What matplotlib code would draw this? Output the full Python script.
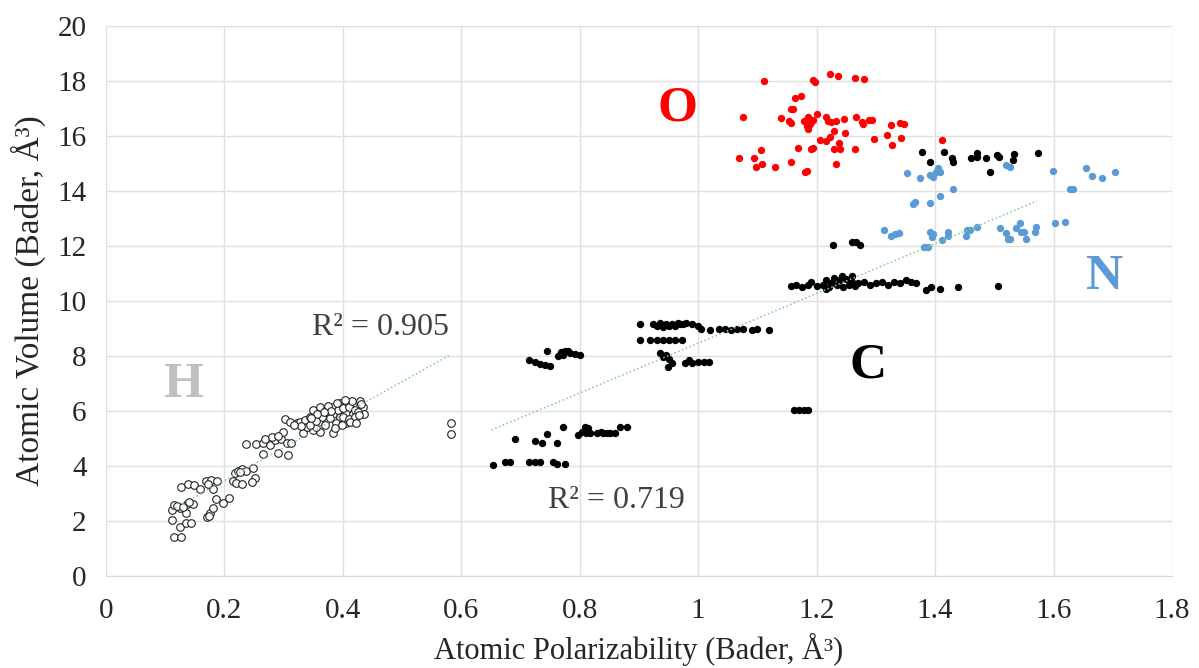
import matplotlib
matplotlib.use("Agg")
import matplotlib.pyplot as plt

plt.rcParams["font.family"] = ["Liberation Serif", "DejaVu Serif"]

# H atoms (hollow markers)
h_x = [0.114, 0.127, 0.111, 0.125, 0.135, 0.143, 0.111, 0.114, 0.125, 0.135, 0.137, 0.147,
       0.120, 0.130, 0.140, 0.127, 0.139, 0.149, 0.159, 0.169, 0.178, 0.187, 0.181, 0.172,
       0.170, 0.176, 0.181, 0.174, 0.186, 0.197, 0.208,
       0.215, 0.220, 0.229, 0.218, 0.223, 0.230, 0.237, 0.249, 0.252, 0.246, 0.226,
       0.237, 0.254, 0.265, 0.277, 0.268, 0.285, 0.296, 0.299, 0.305, 0.313, 0.265, 0.291,
       0.308, 0.280, 0.290,
       0.302, 0.310, 0.322, 0.327, 0.336, 0.344, 0.350, 0.361, 0.372, 0.384, 0.395, 0.406,
       0.417, 0.429, 0.434, 0.436, 0.417, 0.406, 0.395, 0.384, 0.361, 0.350, 0.333, 0.339,
       0.355, 0.372, 0.384, 0.395, 0.406, 0.417, 0.360, 0.365, 0.370, 0.378, 0.388, 0.392,
       0.400, 0.410, 0.420, 0.425, 0.430, 0.345, 0.355, 0.375, 0.390, 0.400, 0.410, 0.420,
       0.428, 0.415, 0.403, 0.380, 0.368, 0.357, 0.347, 0.330, 0.318, 0.386, 0.398, 0.412,
       0.422,
       0.582, 0.582]
h_y = [1.43, 1.43, 2.04, 1.79, 1.94, 1.94, 2.40, 2.58, 2.46, 2.28, 2.62, 2.62,
       2.55, 2.50, 2.70, 3.23, 3.35, 3.30, 3.18, 3.45, 3.49, 3.45, 3.18, 3.35,
       2.16, 2.28, 2.46, 2.20, 2.79, 2.65, 2.82,
       3.45, 3.40, 3.36, 3.76, 3.83, 3.90, 3.83, 3.91, 3.55, 3.42, 3.80,
       4.80, 4.80, 4.85, 4.78, 5.00, 4.95, 5.00, 5.25, 4.85, 4.85, 4.45, 4.47,
       4.40, 5.05, 5.10,
       5.70, 5.61, 5.55, 5.61, 5.67, 5.79, 6.04, 6.16, 6.04, 6.16, 6.28, 6.33,
       6.28, 6.38, 6.16, 5.91, 5.67, 5.55, 5.67, 5.19, 5.25, 5.31, 5.19, 5.43,
       5.43, 5.67, 5.91, 5.79, 5.91, 5.91, 5.60, 5.80, 5.50, 5.75, 5.55, 6.05,
       6.10, 6.15, 6.05, 5.95, 6.25, 5.50, 5.65, 6.20, 6.30, 5.80, 5.70, 5.80,
       5.85, 6.35, 6.40, 6.00, 5.95, 5.90, 5.75, 5.45, 5.50, 5.40, 5.50, 5.60,
       5.55,
       5.55, 5.15]

# C atoms
c_x = [0.653, 0.673, 0.683, 0.715, 0.724, 0.732, 0.755, 0.761, 0.775, 0.690, 0.724, 0.737,
       0.745, 0.761, 0.771, 0.797, 0.803, 0.808, 0.814, 0.817, 0.810, 0.829, 0.840, 0.851,
       0.859, 0.868, 0.879, 0.835, 0.846,
       0.715, 0.724, 0.732, 0.741, 0.749, 0.745, 0.764, 0.769, 0.775, 0.783, 0.792, 0.800,
       0.772, 0.780,
       0.902, 0.902, 0.924, 0.930, 0.935, 0.940, 0.945, 0.950, 0.955, 0.960, 0.965, 0.970,
       0.975, 0.980, 0.990, 1.000, 1.005, 1.020, 1.035, 1.045, 1.055, 1.065, 1.075, 1.090,
       1.100, 1.120, 0.918, 0.930, 0.940, 0.950, 0.960, 0.972,
       0.935, 0.940, 0.945, 0.950, 0.955, 0.949, 0.977, 0.990, 1.000, 1.010, 1.019, 0.985,
       1.162, 1.170, 1.178, 1.186,
       1.157, 1.165, 1.175, 1.185, 1.190, 1.200, 1.210, 1.215, 1.220, 1.225, 1.230, 1.235,
       1.240, 1.245, 1.250, 1.255, 1.260, 1.265, 1.270, 1.280, 1.290, 1.300, 1.310, 1.320,
       1.330, 1.340, 1.350, 1.360, 1.368, 1.228, 1.259, 1.267, 1.273, 1.385, 1.393, 1.408,
       1.439, 1.507, 1.242, 1.260, 1.215,
       1.378, 1.391, 1.415, 1.429, 1.431, 1.461, 1.470, 1.470, 1.486, 1.493, 1.504, 1.508,
       1.531, 1.534, 1.573]
c_y = [4.04, 4.14, 4.14, 4.14, 4.14, 4.14, 4.14, 4.08, 4.08, 5.00, 4.92, 4.82,
       5.17, 4.82, 5.43, 5.13, 5.25, 5.43, 5.37, 5.19, 5.20, 5.19, 5.19, 5.19,
       5.19, 5.41, 5.41, 5.22, 5.20,
       7.85, 7.79, 7.71, 7.67, 7.65, 8.19, 8.00, 8.15, 8.19, 8.10, 8.07, 8.04,
       8.05, 8.20,
       9.16, 8.60, 9.16, 9.10, 9.20, 9.05, 9.16, 9.10, 9.18, 9.10, 9.20, 9.15,
       9.16, 9.20, 9.16, 9.10, 9.00, 8.95, 9.00, 9.00, 8.95, 9.00, 9.00, 8.95,
       9.00, 8.95, 8.60, 8.60, 8.60, 8.60, 8.60, 8.60,
       8.10, 7.95, 8.05, 7.90, 7.75, 7.61, 7.73, 7.75, 7.80, 7.80, 7.79, 7.85,
       6.04, 6.04, 6.04, 6.04,
       10.55, 10.60, 10.50, 10.60, 10.70, 10.55, 10.60, 10.75, 10.50, 10.65, 10.85, 10.60,
       10.75, 10.50, 10.80, 10.60, 10.70, 10.55, 10.65, 10.70, 10.60, 10.65, 10.70, 10.60,
       10.70, 10.65, 10.75, 10.70, 10.65, 12.04, 12.16, 12.16, 12.04, 10.40, 10.50, 10.42,
       10.50, 10.56, 10.90, 10.90, 10.45,
       15.41, 15.06, 15.41, 15.19, 15.06, 15.19, 15.39, 15.25, 15.19, 14.70, 15.31, 15.22,
       15.13, 15.35, 15.39]

# N atoms
n_x = [1.353, 1.374, 1.391, 1.396, 1.402, 1.405, 1.408, 1.431, 1.363, 1.366, 1.391, 1.409,
       1.520, 1.526, 1.599, 1.654, 1.665, 1.682, 1.703, 1.627, 1.633, 1.314, 1.326, 1.332,
       1.339, 1.391, 1.396, 1.394, 1.422, 1.422, 1.452, 1.454, 1.459, 1.471, 1.412, 1.382,
       1.388, 1.510, 1.520, 1.523, 1.526, 1.537, 1.543, 1.545, 1.553, 1.550, 1.568, 1.570,
       1.603, 1.620]
n_y = [14.67, 14.46, 14.58, 14.52, 14.70, 14.82, 14.70, 14.07, 13.53, 13.61, 13.55, 13.82,
       14.94, 14.88, 14.74, 14.82, 14.54, 14.48, 14.68, 14.07, 14.09, 12.58, 12.36, 12.44,
       12.49, 12.52, 12.43, 12.34, 12.52, 12.36, 12.36, 12.58, 12.58, 12.70, 12.22, 11.95,
       11.98, 12.64, 12.46, 12.27, 12.27, 12.67, 12.82, 12.52, 12.27, 12.52, 12.52, 12.70,
       12.82, 12.86]

# O atoms
o_x = [1.111, 1.193, 1.197, 1.223, 1.236, 1.265, 1.280, 1.163, 1.173, 1.156, 1.160, 1.076,
       1.139, 1.153, 1.156, 1.178, 1.185, 1.188, 1.194, 1.200, 1.183, 1.185, 1.190,
       1.215, 1.219, 1.225, 1.233, 1.246, 1.229, 1.267, 1.276, 1.279, 1.288, 1.293,
       1.326, 1.340, 1.347, 1.248, 1.222, 1.216, 1.206, 1.238, 1.229, 1.240, 1.265,
       1.297, 1.319, 1.342, 1.328, 1.168, 1.191, 1.194, 1.106, 1.068, 1.094, 1.108, 1.098,
       1.129, 1.157, 1.181, 1.184, 1.233, 1.412]
o_y = [18.01, 18.04, 17.95, 18.24, 18.19, 18.12, 18.07, 17.40, 17.45, 17.00, 17.00, 16.68,
       16.64, 16.55, 16.48, 16.55, 16.68, 16.45, 16.60, 16.80, 16.35, 16.25, 16.50,
       16.68, 16.55, 16.52, 16.55, 16.62, 16.20, 16.68, 16.52, 16.44, 16.58, 16.60,
       16.40, 16.46, 16.42, 16.12, 15.98, 15.83, 15.85, 15.76, 15.53, 15.53, 15.53,
       15.91, 16.04, 15.94, 15.67, 15.58, 15.53, 15.58, 15.49, 15.19, 15.19, 15.00, 14.86,
       14.89, 15.07, 14.70, 14.72, 14.97, 15.85]

# linear trendlines (end points)
h_trend_x = [0.111, 0.581]
h_trend_y = [2.40, 8.04]
c_trend_x = [0.651, 1.572]
c_trend_y = [5.31, 13.64]

x_ticks = [0, 0.2, 0.4, 0.6, 0.8, 1, 1.2, 1.4, 1.6, 1.8]
x_tick_labels = ["0", "0.2", "0.4", "0.6", "0.8", "1", "1.2", "1.4", "1.6", "1.8"]
y_ticks = list(range(0, 21, 2))

fig = plt.figure(figsize=(11.99, 6.68), dpi=100)
ax = fig.add_axes([0.0884, 0.1377, 0.8891, 0.8233])

ax.scatter(h_x, h_y, s=30, facecolors="white", edgecolors="#222222", linewidths=0.8, zorder=3)
ax.scatter(c_x, c_y, s=28, color="black", linewidths=0, zorder=3)
ax.scatter(n_x, n_y, s=28, color="#5b9bd5", linewidths=0, zorder=3)
ax.scatter(o_x, o_y, s=28, color="#ff0000", linewidths=0, zorder=3)

ax.plot(h_trend_x, h_trend_y, linestyle=":", color="#7fcc7f", linewidth=1.1, zorder=4)
ax.plot(c_trend_x, c_trend_y, linestyle=":", color="#7fcc7f", linewidth=1.1, zorder=4)

ax.text(0.463, 9.02, "R² = 0.905", fontsize=23, color="#404040", ha="center", va="center")
ax.text(0.862, 2.76, "R² = 0.719", fontsize=23, color="#404040", ha="center", va="center")

ax.text(0.965, 17.0, "O", fontsize=37, fontweight="bold", color="#ff0000", ha="center", va="center")
ax.text(1.686, 10.87, "N", fontsize=37, fontweight="bold", color="#5b9bd5", ha="center", va="center")
ax.text(1.286, 7.67, "C", fontsize=37, fontweight="bold", color="black", ha="center", va="center")
ax.text(0.13, 6.95, "H", fontsize=37, fontweight="bold", color="#c0c0c0", ha="center", va="center")

ax.set_xlim(0, 1.8)
ax.set_ylim(0, 20)
ax.set_xticks(x_ticks)
ax.set_xticklabels(x_tick_labels)
ax.set_yticks(y_ticks)
ax.tick_params(axis="both", length=0, labelsize=21, colors="#262626")
ax.tick_params(axis="x", pad=16)
ax.tick_params(axis="y", pad=14)
ax.grid(True, color="#e0e0e0", linewidth=1)
ax.set_axisbelow(True)
for side in ["top", "right", "left"]:
    ax.spines[side].set_visible(False)
ax.spines["bottom"].set_color("#d9d9d9")

ax.set_xlabel("Atomic Polarizability (Bader, Å³)", fontsize=22, color="#262626", labelpad=6)
ax.set_ylabel("Atomic Volume (Bader, Å³)", fontsize=24, color="#262626", labelpad=8)

fig.savefig("out.png", dpi=100)
